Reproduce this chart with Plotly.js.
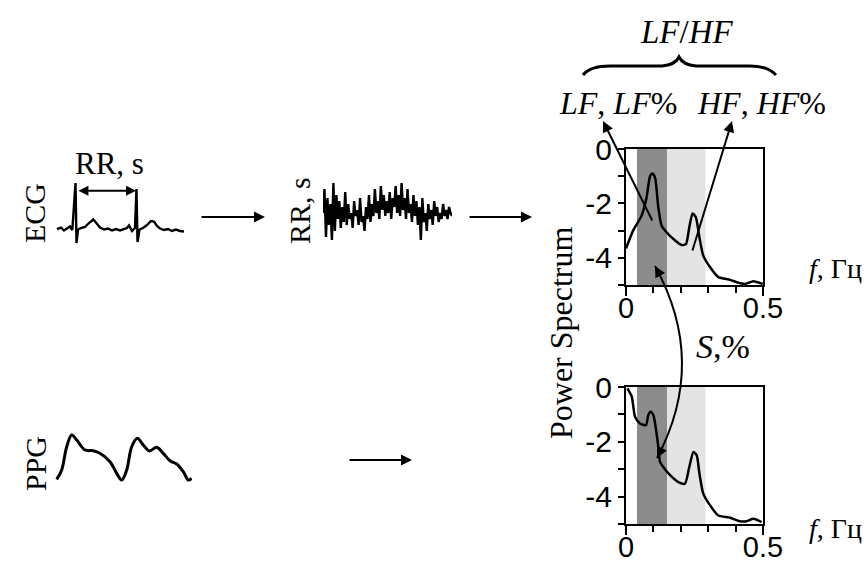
<!DOCTYPE html>
<html><head><meta charset="utf-8">
<script src="https://cdn.plot.ly/plotly-3.0.1.min.js"></script>
<style>body{margin:0;background:#fff}#c{width:864px;height:564px}</style>
</head><body><div id="c"></div>
<script>
// ---- data ----
// ECG sketch: time (s) and amplitude (mV)
const ecgT = [0.026,0.079,0.118,0.158,0.197,0.228,0.270,0.283,0.303,0.342,0.395,0.447,0.504,0.549,0.592,0.645,0.697,0.750,0.803,0.855,0.908,0.947,0.974,1.013,1.053,1.072,1.086,1.112,1.158,1.211,1.263,1.303,1.342,1.382,1.434,1.487,1.539,1.592,1.645,1.697];
const ecgV = [0,0.033,-0.033,0.022,0.056,-0.022,1.02,-0.311,-0.011,0.022,0.044,0.133,0.211,0.122,0.033,-0.011,0.011,-0.033,0,-0.033,-0.011,0.022,0.078,-0.044,0.022,0.889,-0.289,-0.011,0.022,0.089,0.178,0.167,0.067,0.011,-0.022,0,-0.044,-0.011,-0.044,-0.056];
// RR interval series (s)
const rrSeries = [0.80,0.88,0.72,0.85,0.76,0.83,0.71,0.90,0.74,0.86,0.78,0.84,0.75,0.82,0.77,0.87,0.76,0.83,0.78,0.80,0.75,0.84,0.79,0.81,0.76,0.85,0.77,0.79,0.74,0.82,0.78,0.86,0.77,0.83,0.79,0.88,0.80,0.84,0.78,0.89,0.81,0.86,0.79,0.84,0.80,0.87,0.78,0.85,0.82,0.89,0.80,0.86,0.79,0.90,0.81,0.85,0.78,0.88,0.80,0.83,0.77,0.86,0.79,0.84,0.76,0.82,0.71,0.85,0.77,0.80,0.74,0.83,0.78,0.81,0.76,0.84,0.79,0.82,0.77,0.80,0.78,0.83,0.79,0.81,0.78,0.82,0.80,0.79];
// PPG sketch: time (s) and amplitude (a.u.)
const ppgT = [0.026,0.103,0.180,0.257,0.334,0.462,0.589,0.692,0.846,0.949,1.026,1.103,1.180,1.266,1.358,1.451,1.565,1.666,1.769,1.872,1.974,2.051,2.103];
const ppgV = [0.057,0.255,0.75,1.0,0.894,0.68,0.666,0.61,0.432,0.185,0.043,0.255,0.75,0.93,0.787,0.66,0.738,0.61,0.453,0.383,0.219,0.043,0.079];
// Power spectrum from ECG (RR): frequency (Hz), log power
const ecgF = [0,0.026,0.057,0.075,0.088,0.096,0.106,0.118,0.130,0.148,0.173,0.203,0.219,0.231,0.243,0.255,0.268,0.282,0.307,0.337,0.380,0.404,0.434,0.465,0.499];
const ecgP = [-3.66,-3.0,-2.45,-1.78,-0.99,-0.9,-1.05,-2.15,-2.82,-3.06,-3.31,-3.53,-3.49,-2.88,-2.37,-2.51,-3.25,-3.92,-4.35,-4.71,-4.81,-4.90,-4.96,-4.86,-4.96];
// Power spectrum from PPG
const ppgF = [0.005,0.021,0.033,0.051,0.073,0.081,0.090,0.100,0.109,0.118,0.124,0.136,0.161,0.191,0.215,0.231,0.246,0.258,0.268,0.282,0.307,0.337,0.380,0.416,0.440,0.465,0.495];
const ppgP = [-0.05,-0.35,-1.09,-1.33,-1.39,-1.03,-0.90,-1.03,-1.51,-2.19,-2.73,-2.92,-3.22,-3.47,-3.53,-2.92,-2.37,-2.49,-3.16,-3.89,-4.32,-4.69,-4.77,-4.90,-4.90,-4.81,-4.93];
// Frequency bands (Hz)
const lfBand = [0.04, 0.15];
const hfBand = [0.15, 0.29];
const xTicks = [0, 0.5], xTickText = ['0', '0.5'];
const yTicks = [-4, -2, 0], yTickText = ['-4', '-2', '0'];

// ---- layout helpers ----
const W = 864, H = 564;
const X = v => v / W, Y = v => 1 - v / H;
const P = (x, y) => X(x).toFixed(4) + ',' + Y(y).toFixed(4);
const serif = 'Liberation Serif, Times New Roman, serif';
const sans = 'Liberation Sans, Arial, sans-serif';

const line = {color: 'black', width: 2.5};
const traces = [
  {x: ecgF, y: ecgP, xaxis: 'x', yaxis: 'y', mode: 'lines', line: Object.assign({shape: 'spline', smoothing: 0.6}, line)},
  {x: ppgF, y: ppgP, xaxis: 'x2', yaxis: 'y2', mode: 'lines', line: Object.assign({shape: 'spline', smoothing: 0.6}, line)},
  {x: ecgT, y: ecgV, xaxis: 'x3', yaxis: 'y3', mode: 'lines', line: {color: 'black', width: 2.4}},
  {x: rrSeries.map((_, i) => i), y: rrSeries, xaxis: 'x4', yaxis: 'y4', mode: 'lines', line: {color: 'black', width: 2.4}},
  {x: ppgT, y: ppgV, xaxis: 'x5', yaxis: 'y5', mode: 'lines', line: {color: 'black', width: 3, shape: 'spline', smoothing: 1}}
];

function specX(anchor) {
  return {
    domain: [X(626), X(763)], range: [0, 0.5], anchor: anchor,
    showline: true, mirror: true, linewidth: 2, linecolor: 'black',
    ticks: 'outside', ticklen: 9, tickwidth: 2, tickcolor: 'black',
    tickvals: xTicks, ticktext: xTickText, ticklabelstandoff: -13,
    minor: {tick0: 0, dtick: 0.1, ticks: 'outside', ticklen: 6, tickwidth: 2, tickcolor: 'black'},
    showgrid: false, zeroline: false, fixedrange: true,
    tickfont: {family: sans, size: 29, color: 'black'}
  };
}
function specY(top, bottom, anchor) {
  return {
    domain: [Y(bottom), Y(top)], range: [-5, 0], anchor: anchor,
    showline: true, mirror: true, linewidth: 2, linecolor: 'black',
    ticks: 'outside', ticklen: 6, tickwidth: 2, tickcolor: 'black',
    tickvals: yTicks, ticktext: yTickText,
    minor: {tick0: 0, dtick: 1, ticks: 'outside', ticklen: 6, tickwidth: 2, tickcolor: 'black'},
    showgrid: false, zeroline: false, fixedrange: true,
    tickfont: {family: sans, size: 30, color: 'black'}
  };
}
const hidden = (dom, rng, anchor) => ({domain: dom, range: rng, anchor: anchor, visible: false, fixedrange: true});

const shapes = [];
[['x', 'y'], ['x2', 'y2']].forEach(([xa, ya]) => {
  shapes.push({type: 'rect', xref: xa, yref: ya + ' domain', x0: lfBand[0], x1: lfBand[1], y0: 0, y1: 1, fillcolor: '#8c8c8c', line: {width: 0}, layer: 'below'});
  shapes.push({type: 'rect', xref: xa, yref: ya + ' domain', x0: hfBand[0], x1: hfBand[1], y0: 0, y1: 1, fillcolor: '#e4e4e4', line: {width: 0}, layer: 'below'});
});
// curly brace
shapes.push({type: 'path', xref: 'paper', yref: 'paper', line: {color: 'black', width: 3},
  path: 'M ' + P(583, 75) + ' Q ' + P(590, 66) + ' ' + P(610, 66) + ' L ' + P(662, 66) + ' Q ' + P(675, 65) + ' ' + P(679, 57) +
        ' Q ' + P(683, 65) + ' ' + P(696, 66) + ' L ' + P(750, 66) + ' Q ' + P(768, 66) + ' ' + P(776, 75)});
// curved S,% arrow
shapes.push({type: 'path', xref: 'paper', yref: 'paper', line: {color: 'black', width: 2},
  path: 'M ' + P(657, 458) + ' Q ' + P(708, 362) + ' ' + P(655, 266)});

function arrow(hx, hy, tx, ty, extra) {
  return Object.assign({xref: 'paper', yref: 'paper', x: X(hx), y: Y(hy), ax: tx - hx, ay: ty - hy, text: '',
    showarrow: true, arrowhead: 2, arrowsize: 1.1, arrowwidth: 2, arrowcolor: 'black', standoff: 0, startstandoff: 0}, extra || {});
}
function label(x, y, text, size, extra) {
  return Object.assign({xref: 'paper', yref: 'paper', x: X(x), y: Y(y), text: text, showarrow: false,
    xanchor: 'center', yanchor: 'middle', font: {family: serif, size: size, color: 'black'}}, extra || {});
}

const annotations = [
  arrow(265, 217, 200, 217),
  arrow(532, 217, 468, 217),
  arrow(412, 460, 348, 460),
  arrow(603, 121, 653, 222),
  arrow(732, 121, 692, 252),
  arrow(655, 266, 661, 277),
  arrow(657, 458, 662, 448),
  {xref: 'x3', yref: 'y3', x: 1.066, y: 0.85, axref: 'x3', ayref: 'y3', ax: 0.289, ay: 0.85, text: '',
   showarrow: true, arrowhead: 2, arrowside: 'end+start', arrowsize: 1, arrowwidth: 2, arrowcolor: 'black', standoff: 0, startstandoff: 0},
  label(109, 163, 'RR, s', 31),
  label(35, 213, 'ECG', 30, {textangle: -90}),
  label(35, 464, 'PPG', 30, {textangle: -90}),
  label(299, 211, 'RR, s', 30, {textangle: -90}),
  label(561, 333, 'Power Spectrum', 32, {textangle: -90}),
  label(687, 32, '<i>LF</i>/<i>HF</i>', 33),
  label(618, 103, '<i>LF</i>, <i>LF</i>%', 32),
  label(761, 103, '<i>HF</i>, <i>HF</i>%', 32),
  label(723, 346, '<i>S</i>,%', 34),
  label(835, 268, '<i>f</i>, Гц', 28),
  label(835, 528, '<i>f</i>, Гц', 28)
];

const layout = {
  width: W, height: H, autosize: false, showlegend: false,
  margin: {l: 0, r: 0, t: 0, b: 0},
  paper_bgcolor: 'white', plot_bgcolor: 'rgba(0,0,0,0)',
  xaxis: specX('y'), yaxis: specY(149, 285, 'x'),
  xaxis2: specX('y2'), yaxis2: specY(387, 524, 'x2'),
  xaxis3: hidden([X(55), X(186)], [0, 1.724], 'y3'), yaxis3: hidden([Y(248), Y(180)], [-0.422, 1.089], 'x3'),
  xaxis4: hidden([X(323), X(452)], [0, rrSeries.length - 1], 'y4'), yaxis4: hidden([Y(246), Y(180)], [0.69, 0.91], 'x4'),
  xaxis5: hidden([X(55), X(192)], [0, 2.108], 'y5'), yaxis5: hidden([Y(482), Y(430)], [0, 1.106], 'x5'),
  shapes: shapes, annotations: annotations
};
Plotly.newPlot('c', traces, layout, {staticPlot: true, displayModeBar: false});
</script></body></html>
